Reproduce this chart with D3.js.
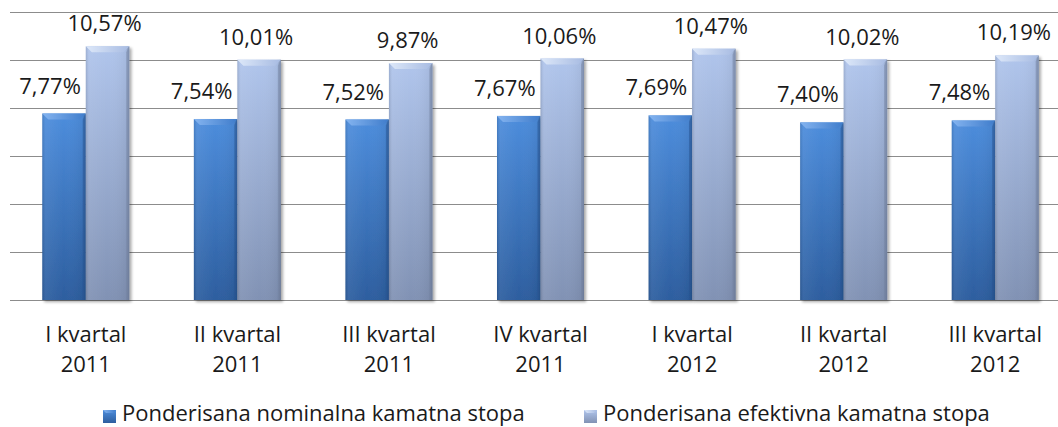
<!DOCTYPE html>
<html>
<head>
<meta charset="utf-8">
<script src="https://cdn.jsdelivr.net/npm/d3@7"></script>
<style>
  html, body { margin: 0; padding: 0; background: #fff; }
  svg { display: block; }
  text { font-family: "Open Sans", sans-serif; fill: #1a1a1a; }
</style>
</head>
<body>
<svg id="chart" width="1058" height="427"></svg>
<script>
// ---- data ----
const quarters = ["I kvartal", "II kvartal", "III kvartal", "IV kvartal", "I kvartal", "II kvartal", "III kvartal"];
const years = ["2011", "2011", "2011", "2011", "2012", "2012", "2012"];
const nominal = [7.77, 7.54, 7.52, 7.67, 7.69, 7.40, 7.48];
const effective = [10.57, 10.01, 9.87, 10.06, 10.47, 10.02, 10.19];
const seriesNames = ["Ponderisana nominalna kamatna stopa", "Ponderisana efektivna kamatna stopa"];
const yTicks = [0, 2, 4, 6, 8, 10, 12];

const W = 1058, H = 427;
const svg = d3.select("#chart");
const defs = svg.append("defs");

const plot = { left: 10, right: 1071, top: 12, bottom: 300 };

const y = d3.scaleLinear().domain([0, 12]).range([plot.bottom, plot.top]);
const x0 = d3.scaleBand().domain(d3.range(quarters.length))
  .range([plot.left, plot.right]).paddingInner(0.426).paddingOuter(0.213);
const x1 = d3.scaleBand().domain([0, 1]).range([0, x0.bandwidth()]);

const styles = [
  { top: "#4d8ddc", bottom: "#2d5e9f", bevelA: "#84b4f0", bevelB: "#3f7ccb", side: "#2a5898", label: -14, ly: 20 },
  { top: "#b0c5ec", bottom: "#8192b4", bevelA: "#dde8f9", bevelB: "#a7bbe2", side: "#7888a8", label: -3, ly: 15 }
];

styles.forEach((s, i) => {
  const g = defs.append("linearGradient").attr("id", "vg" + i)
    .attr("x1", 0).attr("y1", 0).attr("x2", 0).attr("y2", 1);
  g.append("stop").attr("offset", "0%").attr("stop-color", s.top);
  g.append("stop").attr("offset", "100%").attr("stop-color", s.bottom);
  const b = defs.append("linearGradient").attr("id", "bg" + i)
    .attr("x1", 0).attr("y1", 0).attr("x2", 1).attr("y2", 0);
  b.append("stop").attr("offset", "0%").attr("stop-color", s.bevelA);
  b.append("stop").attr("offset", "100%").attr("stop-color", s.bevelB);
});
const hg = defs.append("linearGradient").attr("id", "hshade")
  .attr("x1", 0).attr("y1", 0).attr("x2", 1).attr("y2", 0);
hg.append("stop").attr("offset", "0%").attr("stop-color", "#000").attr("stop-opacity", 0.12);
hg.append("stop").attr("offset", "8%").attr("stop-color", "#fff").attr("stop-opacity", 0.06);
hg.append("stop").attr("offset", "50%").attr("stop-color", "#fff").attr("stop-opacity", 0);
hg.append("stop").attr("offset", "92%").attr("stop-color", "#000").attr("stop-opacity", 0.05);
hg.append("stop").attr("offset", "100%").attr("stop-color", "#000").attr("stop-opacity", 0.25);

const shadow = defs.append("filter").attr("id", "shadow").attr("x", "-20%").attr("y", "-5%").attr("width", "140%").attr("height", "115%");
shadow.append("feGaussianBlur").attr("in", "SourceAlpha").attr("stdDeviation", 1.5);
shadow.append("feOffset").attr("dx", 1.5).attr("dy", 1.5).attr("result", "ob");
shadow.append("feComponentTransfer").append("feFuncA").attr("type", "linear").attr("slope", 0.35);
const fm = shadow.append("feMerge");
fm.append("feMergeNode");
fm.append("feMergeNode").attr("in", "SourceGraphic");

// gridlines
svg.append("g").selectAll("line").data(yTicks).join("line")
  .attr("x1", plot.left).attr("x2", plot.right)
  .attr("y1", d => Math.round(y(d)) + 0.5).attr("y2", d => Math.round(y(d)) + 0.5)
  .attr("stroke", "#8c8c8c").attr("stroke-width", 1);

// bars
const seriesData = [nominal, effective];
const groups = svg.append("g").selectAll("g").data(d3.range(quarters.length)).join("g")
  .attr("transform", i => `translate(${x0(i)},0)`);

seriesData.forEach((vals, si) => {
  const s = styles[si];
  const bw = x1.bandwidth();
  const bar = groups.append("g").attr("filter", "url(#shadow)");
  const bx = x1(si);
  bar.append("rect")
    .attr("x", bx).attr("width", bw)
    .attr("y", i => y(vals[i])).attr("height", i => y(0) - y(vals[i]))
    .attr("fill", `url(#vg${si})`);
  bar.append("rect")
    .attr("x", bx).attr("width", bw)
    .attr("y", i => y(vals[i])).attr("height", i => y(0) - y(vals[i]))
    .attr("fill", "url(#hshade)");
  const bev = 6;
  bar.append("path")
    .attr("d", i => {
      const t = y(vals[i]);
      return `M${bx},${t}L${bx + bw},${t}L${bx + bw - bev},${t + bev}L${bx + bev},${t + bev}Z`;
    })
    .attr("fill", `url(#bg${si})`);
  bar.append("path")
    .attr("d", i => {
      const t = y(vals[i]);
      return `M${bx + bw},${t}L${bx + bw},${y(0)}L${bx + bw - 3},${y(0)}L${bx + bw - 3},${t + bev}Z`;
    })
    .attr("fill", s.side).attr("opacity", 0.5);
});

// data labels
const fmt = v => d3.format(".2f")(v).replace(".", ",") + "%";
seriesData.forEach((vals, si) => {
  const s = styles[si];
  groups.append("text")
    .attr("x", x1(si) + x1.bandwidth() / 2 + s.label)
    .attr("y", i => y(vals[i]) - s.ly)
    .attr("text-anchor", "middle")
    .attr("font-size", 22)
    .text(i => fmt(vals[i]));
});

// category labels
const cat = svg.append("g").selectAll("text").data(d3.range(quarters.length)).join("text")
  .attr("text-anchor", "middle").attr("font-size", 22)
  .attr("transform", i => `translate(${x0(i) + x0.bandwidth() / 2},0)`);
cat.append("tspan").attr("x", 0).attr("y", 342).text(i => quarters[i]);
cat.append("tspan").attr("x", 0).attr("y", 372).text(i => years[i]);

// legend
const legendX = [103, 584];
const leg = svg.append("g").selectAll("g").data(seriesNames).join("g")
  .attr("transform", (d, i) => `translate(${legendX[i]},0)`);
leg.append("rect").attr("x", 0).attr("y", 410).attr("width", 13).attr("height", 13)
  .attr("fill", (d, i) => `url(#vg${i})`);
leg.append("path").attr("d", "M0,410L13,410L10,413L3,413Z").attr("fill", (d, i) => `url(#bg${i})`);
leg.append("text").attr("x", 19).attr("y", 421).attr("font-size", 22).text(d => d);
</script>
</body>
</html>
